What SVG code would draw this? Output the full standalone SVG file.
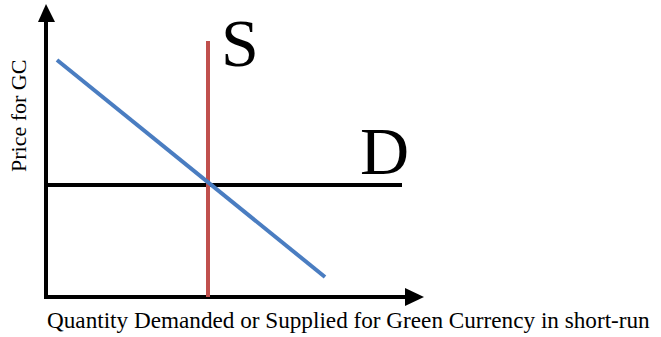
<svg xmlns="http://www.w3.org/2000/svg" width="661" height="337" viewBox="0 0 661 337">
<rect width="661" height="337" fill="#fff"/>
<g id="connectors">
<path d="M46,299 L46,22" stroke="#000" stroke-width="4" fill="none"/>
<path d="M38,22 L46,4 L55,22 Z" fill="#000"/>
<path d="M44,297 L405,297" stroke="#000" stroke-width="4" fill="none"/>
<path d="M405,288 L424,297 L405,306 Z" fill="#000"/>
</g>
<g id="demand-curve">
<line x1="45" y1="185" x2="402" y2="185" stroke="#000" stroke-width="4"/>
</g>
<g id="supply-curve">
<line x1="208" y1="41" x2="208" y2="297" stroke="#c0504d" stroke-width="4"/>
</g>
<g id="blue-line">
<line x1="57" y1="60" x2="325" y2="277" stroke="#4a7dc1" stroke-width="4"/>
</g>
<text font-family="Liberation Serif" x="221" y="66" font-size="68">S</text>
<text font-family="Liberation Serif" x="360" y="174" font-size="68">D</text>
<text font-family="Liberation Serif" x="47" y="328" font-size="23.2">Quantity Demanded or Supplied for Green Currency in short-run</text>
<text font-family="Liberation Serif" transform="translate(26,172) rotate(-90)" x="0" y="0" font-size="22">Price for GC</text>
</svg>
